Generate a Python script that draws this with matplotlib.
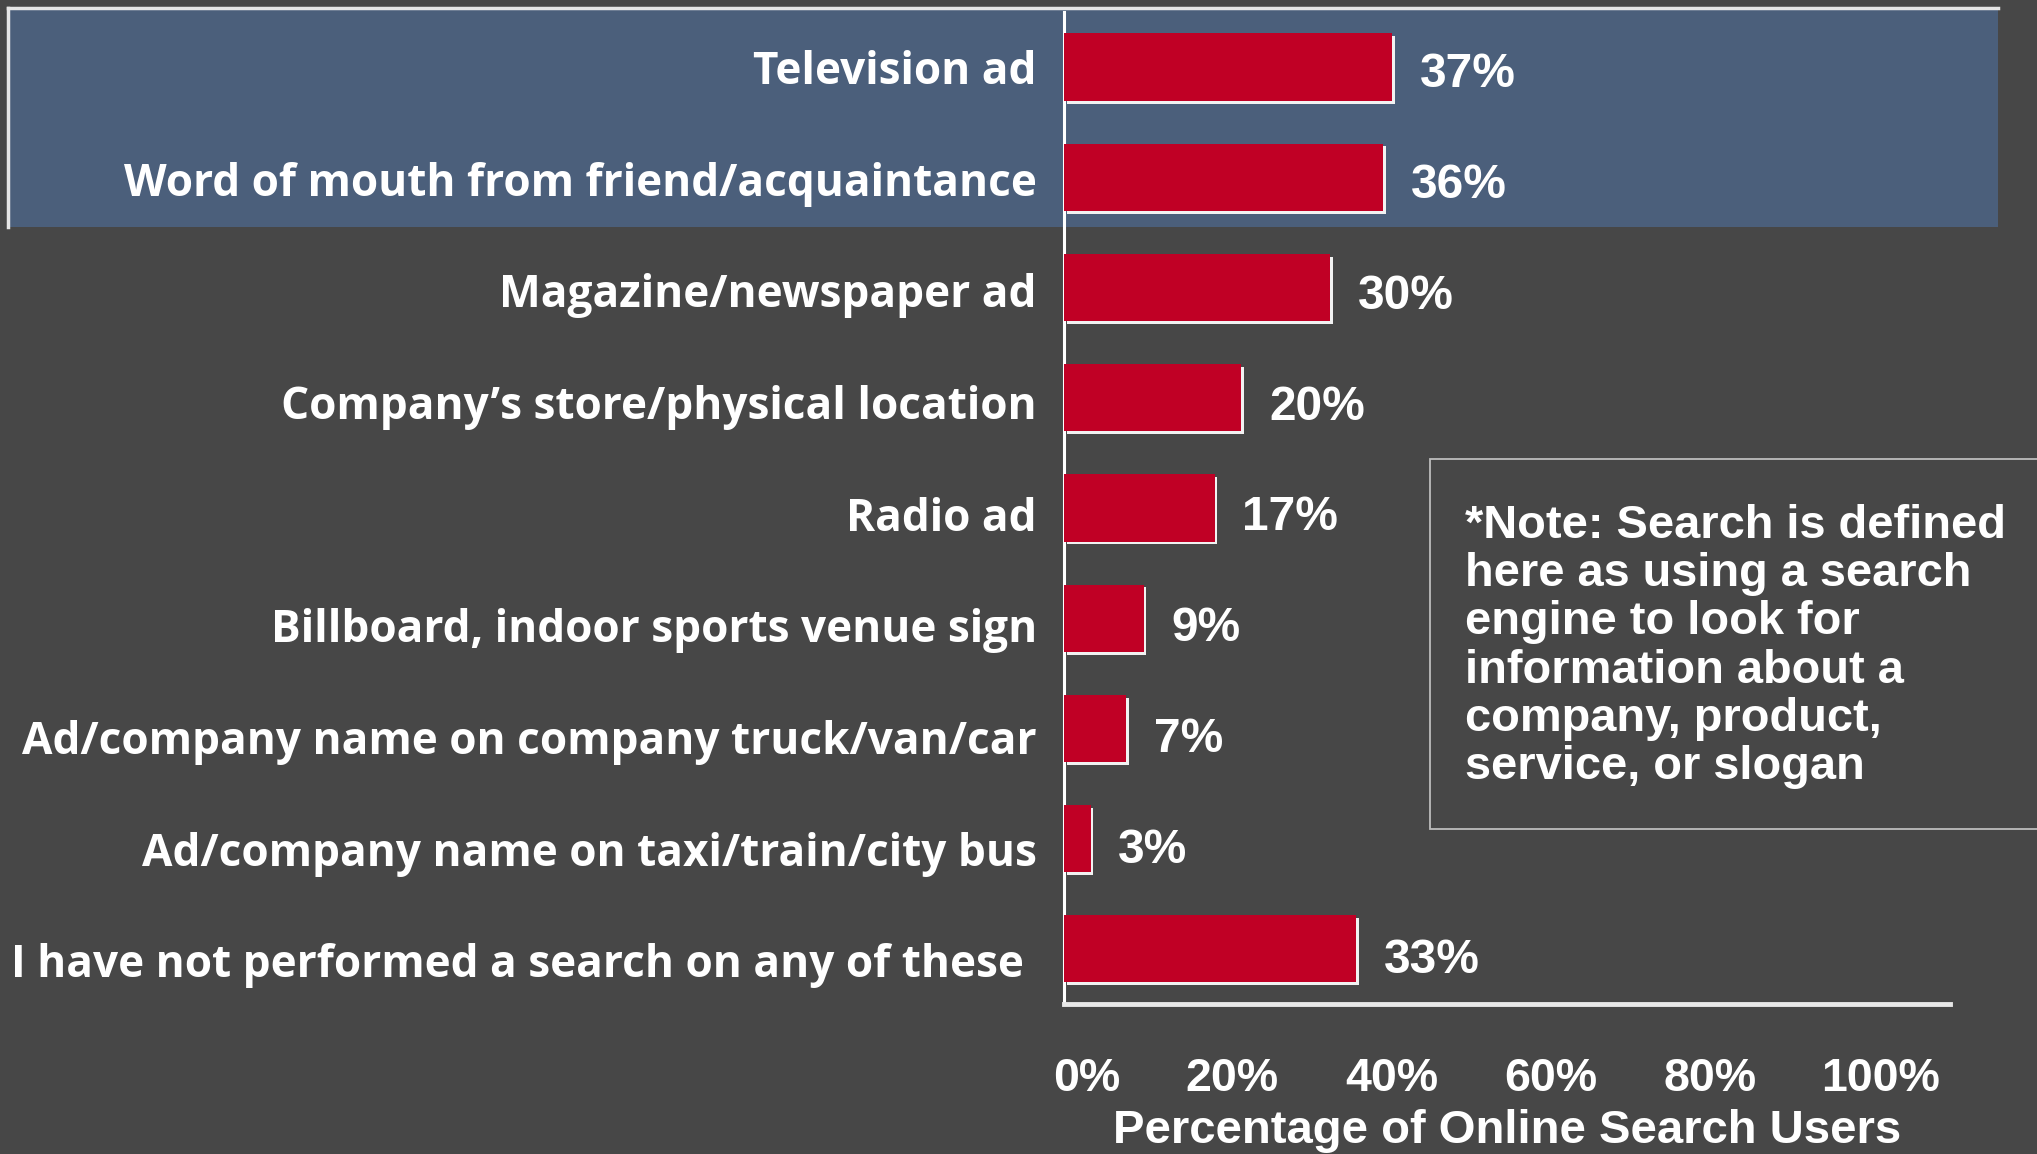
import numpy as np
import matplotlib.pyplot as plt
from matplotlib.patches import Rectangle
from matplotlib.lines import Line2D
from matplotlib import patheffects
from matplotlib.transforms import ScaledTranslation

# --- data ---
categories = [
    "Television ad",
    "Word of mouth from friend/acquaintance",
    "Magazine/newspaper ad",
    "Company\u2019s store/physical location",
    "Radio ad",
    "Billboard, indoor sports venue sign",
    "Ad/company name on company truck/van/car",
    "Ad/company name on taxi/train/city bus",
    "I have not performed a search on any of these",
]
values = [37, 36, 30, 20, 17, 9, 7, 3, 33]
tick_labels = ["0%", "20%", "40%", "60%", "80%", "100%"]
# tick labels in the original sit a bit off the true scale
tick_pos = [2.6, 19.0, 37.0, 55.0, 72.9, 92.2]
note = ("*Note: Search is defined\nhere as using a search\nengine to look for\n"
        "information about a\ncompany, product,\nservice, or slogan")
xlabel = "Percentage of Online Search Users"

BG = "#474747"
BAND = "#4b5f7b"
RED = "#c00025"
LABEL_FONT = "Open Sans"
NUM_FONT = "Liberation Sans"

fig = plt.figure(figsize=(20.37, 11.54), dpi=100, facecolor=BG)

# highlighted band behind top two rows
fig.patches.append(Rectangle((0.004, 0.803), 0.977, 0.190, transform=fig.transFigure,
                             facecolor=BAND, edgecolor="none", zorder=0))
fig.lines.append(Line2D([0.004, 0.981], [0.993, 0.993], transform=fig.transFigure,
                        color="#e6e6e6", lw=2.5, zorder=1))
fig.lines.append(Line2D([0.004, 0.004], [0.803, 0.993], transform=fig.transFigure,
                        color="#e6e6e6", lw=2.5, zorder=1))

# note box
fig.patches.append(Rectangle((0.702, 0.2816), 0.32, 0.3206, transform=fig.transFigure,
                             facecolor=BG, edgecolor="#bdbdbd", lw=1.3, zorder=1))
fig.text(0.7192, 0.563, note, ha="left", va="top", color="white", fontsize=33.8,
         fontweight="bold", family=NUM_FONT, linespacing=1.12, zorder=2)

ax = fig.add_axes([0.5223, 0.130, 0.435, 0.8596], zorder=3)
ax.patch.set_alpha(0)

y = np.arange(len(categories))
text_y = y * 1.013
bars = ax.barh(y, values, height=0.61, color=RED, zorder=3)
for b in bars:
    b.set_path_effects([patheffects.SimplePatchShadow(offset=(2, -2), shadow_rgbFace="#f2f2f2", alpha=1.0),
                        patheffects.Normal()])

for yi, v in zip(y * 1.005, values):
    ax.annotate(f"{v}%", (v, yi), xytext=(20, -5.5), textcoords="offset points",
                ha="left", va="center", color="white", fontsize=34.5,
                fontweight="bold", family=NUM_FONT)

ax.set_xlim(0, 100)
ax.set_ylim(8.5, -0.5)

ax.set_yticks(text_y)
ax.set_yticklabels(categories, fontsize=31.8, fontweight="bold", family=LABEL_FONT, color="white")
ax.tick_params(axis="y", length=0, pad=19.5)
last = ax.get_yticklabels()[-1]
last.set_transform(last.get_transform() + ScaledTranslation(-0.13, 0, fig.dpi_scale_trans))

ax.set_xticks(tick_pos)
ax.set_xticklabels(tick_labels, fontsize=33.5, fontweight="bold", family=NUM_FONT, color="white")
ax.tick_params(axis="x", length=0, pad=38)
ax.set_xlabel(xlabel, fontsize=34, fontweight="bold", family=NUM_FONT, color="white", labelpad=6)

for s in ["top", "right"]:
    ax.spines[s].set_visible(False)
ax.spines["left"].set_color("white")
ax.spines["left"].set_linewidth(2.2)
ax.spines["bottom"].set_color("#e8e8e8")
ax.spines["bottom"].set_linewidth(3.5)

fig.savefig("out.png", dpi=100, facecolor=BG)
